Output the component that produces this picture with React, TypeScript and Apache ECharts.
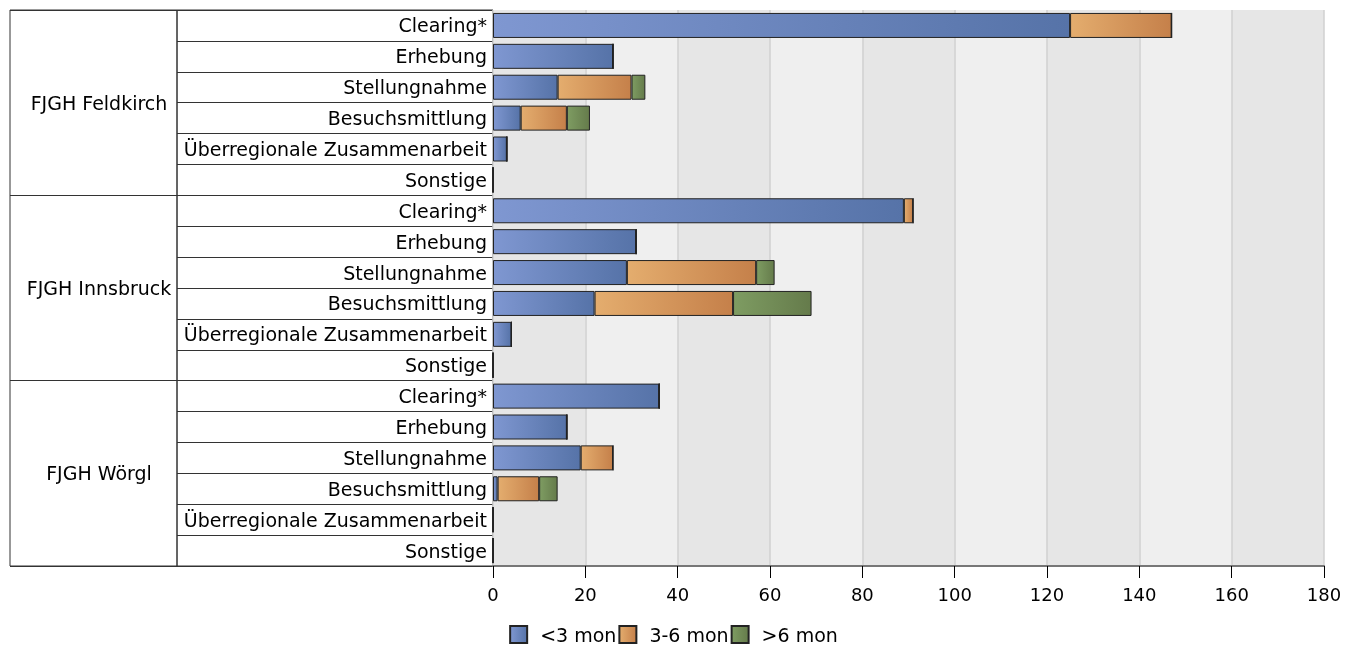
import React, { useEffect, useRef } from "react";
import * as echarts from "echarts";

const groups = ["FJGH Feldkirch", "FJGH Innsbruck", "FJGH Wörgl"];
const subCategories = [
  "Clearing*",
  "Erhebung",
  "Stellungnahme",
  "Besuchsmittlung",
  "Überregionale Zusammenarbeit",
  "Sonstige",
];
const seriesNames = ["<3 mon", "3-6 mon", ">6 mon"];

// per group, per sub-category
const under3: number[][] = [
  [125, 26, 14, 6, 3, 0],
  [89, 31, 29, 22, 4, 0],
  [36, 16, 19, 1, 0, 0],
];
const from3to6: number[][] = [
  [22, 0, 16, 10, 0, 0],
  [2, 0, 28, 30, 0, 0],
  [0, 0, 7, 9, 0, 0],
];
const over6: number[][] = [
  [0, 0, 3, 5, 0, 0],
  [0, 0, 4, 17, 0, 0],
  [0, 0, 0, 4, 0, 0],
];
const xTicks = [0, 20, 40, 60, 80, 100, 120, 140, 160, 180];

const FONT = "DejaVu Sans";

const grad = (a: string, b: string) =>
  new echarts.graphic.LinearGradient(0, 0, 1, 0, [
    { offset: 0, color: a },
    { offset: 1, color: b },
  ]);

export default function App() {
  const ref = useRef<HTMLDivElement>(null);
  useEffect(() => {
    if (!ref.current) return;
    const chart = echarts.init(ref.current, undefined, { renderer: "svg" });

    const rowKeys: string[] = [];
    groups.forEach((g) => subCategories.forEach((s) => rowKeys.push(g + "|" + s)));
    const flat = (arr: number[][]) => arr.reduce((acc: number[], r) => acc.concat(r), []);

    const colors = [
      grad("#7f97d1", "#5673a8"),
      grad("#e4ad6e", "#c5804a"),
      grad("#7e9c62", "#657b4b"),
    ];
    const values = [flat(under3), flat(from3to6), flat(over6)];

    const top = 10;
    const height = 556;

    chart.setOption({
      animation: false,
      textStyle: { fontFamily: FONT },
      grid: [
        { left: 493, top, width: 831, height, containLabel: false, show: false },
        {
          left: 177, top, width: 316, height, show: true,
          borderColor: "#333", borderWidth: 1, backgroundColor: "transparent",
        },
        {
          left: 10, top, width: 167, height, show: true,
          borderColor: "#333", borderWidth: 1, backgroundColor: "transparent",
        },
      ],
      xAxis: [
        {
          gridIndex: 0,
          type: "value",
          min: 0,
          max: 180,
          interval: 20,
          axisLine: { show: true, lineStyle: { color: "#777", width: 2 } },
          axisTick: { show: true, length: 12, lineStyle: { color: "#000", width: 1 } },
          axisLabel: {
            color: "#000", fontSize: 18, fontFamily: FONT, margin: 19,
            formatter: (v: number) => (xTicks.includes(v) ? String(v) : ""),
          },
          splitLine: { show: true, lineStyle: { color: "#d0d0d0", width: 1.5 } },
          splitArea: { show: true, areaStyle: { color: ["#e6e6e6", "#efefef"] } },
        },
        { gridIndex: 1, type: "value", show: false, min: 0, max: 1 },
        { gridIndex: 2, type: "value", show: false, min: 0, max: 1 },
      ],
      yAxis: [
        {
          gridIndex: 0,
          type: "category",
          inverse: true,
          data: rowKeys,
          axisLine: { show: false },
          axisTick: { show: false },
          axisLabel: {
            interval: 0,
            margin: 6,
            color: "#000",
            fontSize: 19,
            fontFamily: FONT,
            formatter: (v: string) => v.split("|")[1],
          },
          splitLine: { show: false },
        },
        {
          gridIndex: 1,
          type: "category",
          inverse: true,
          data: rowKeys,
          axisLine: { show: false },
          axisTick: { show: false },
          axisLabel: { show: false },
          splitLine: { show: true, interval: 0, lineStyle: { color: "#333", width: 1 } },
        },
        {
          gridIndex: 2,
          type: "category",
          inverse: true,
          data: groups,
          axisLine: { show: false },
          axisTick: { show: false },
          axisLabel: {
            show: true,
            interval: 0,
            margin: -89,
            align: "center",
            color: "#000",
            fontSize: 19,
            fontFamily: FONT,
          },
          splitLine: { show: true, interval: 0, lineStyle: { color: "#333", width: 1 } },
        },
      ],
      legend: {
        bottom: 4,
        left: "center",
        padding: 0,
        itemWidth: 17,
        itemHeight: 17,
        itemGap: 2,
        icon: "rect",
        textStyle: { color: "#000", fontSize: 19, fontFamily: FONT, padding: [0, 0, 0, 8] },
        data: seriesNames,
      },
      series: seriesNames.map((name, i) => ({
        name,
        type: "bar",
        stack: "total",
        xAxisIndex: 0,
        yAxisIndex: 0,
        barWidth: 25,
        data: values[i],
        itemStyle: { color: colors[i], borderColor: "#222", borderWidth: 1 },
        emphasis: { disabled: true },
      })),
    });
    return () => chart.dispose();
  }, []);
  return (
    <div
      ref={ref}
      style={{ position: "fixed", left: 0, top: 0, width: 1347, height: 648 }}
    />
  );
}
